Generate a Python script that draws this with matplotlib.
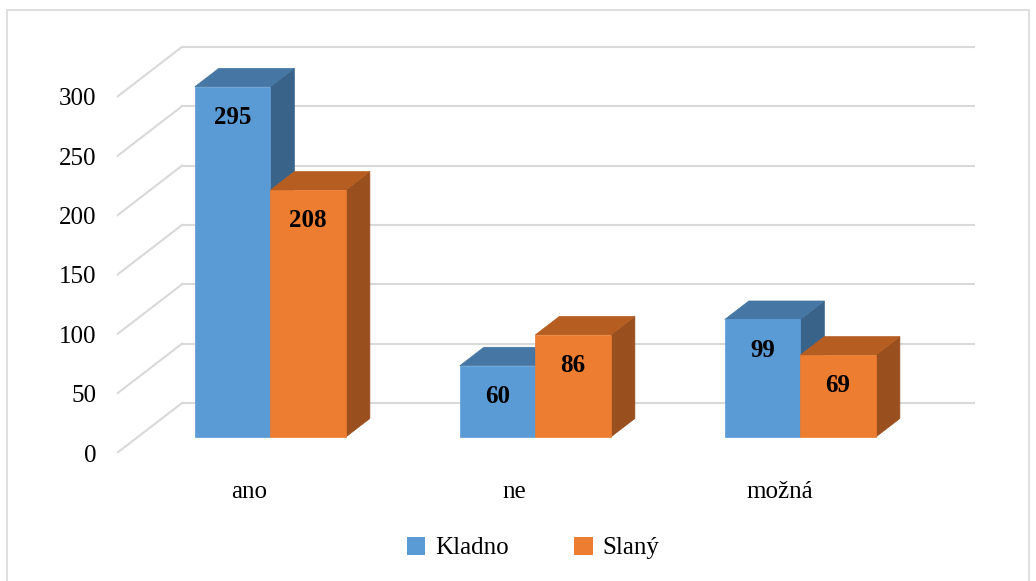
import matplotlib.pyplot as plt
from matplotlib.patches import Polygon, Rectangle, Patch

# data
kategorie = ["ano", "ne", "možná"]
serie = ["Kladno", "Slaný"]
kladno = [295, 60, 99]
slany = [208, 86, 69]

# colors: front, top, side
barvy = {
    "Kladno": ("#5B9BD5", "#4676A3", "#3A6389"),
    "Slaný": ("#ED7D31", "#B65E22", "#9A4F1E"),
}
grid_barva = "#D9D9D9"

plt.rcParams["font.family"] = ["Liberation Serif", "DejaVu Serif"]

fig = plt.figure(figsize=(10.36, 5.81), dpi=100)
W, H = 1036, 581

# axes = front plane of the 3D box
ax_l, ax_b, ax_r, ax_t = 117, 453, 975, 30
ax = fig.add_axes([ax_l / W, 1 - ax_b / H, (ax_r - ax_l) / W, (ax_b - ax_t) / H])
px_cat = 265.0          # pixels per category
px_val = 1.187          # pixels per unit
ax.set_xlim(-0.5, -0.5 + (ax_r - ax_l) / px_cat)
ax.set_ylim(0, (ax_b - ax_t) / px_val)
for s in ax.spines.values():
    s.set_visible(False)

# depth of the box in data units
DX = 65 / px_cat
DY = 50 / px_val
f0, f1 = 0.32, 0.69     # bar position inside depth
n = len(kategorie)

# back wall + side wall grid
for v in range(0, 301, 50):
    ax.plot([-0.5, -0.5 + DX], [v, v + DY], color=grid_barva, lw=1.5, zorder=1)
    ax.plot([-0.5 + DX, n - 0.5 + DX], [v + DY, v + DY], color=grid_barva, lw=1.5, zorder=1)

w = 0.285


def kvadr(x0, v, cols):
    fc, tc, sc = cols
    ax0, ay0 = x0 + f0 * DX, f0 * DY
    bx0, by0 = x0 + f1 * DX, f1 * DY
    side = [(ax0 + w, ay0), (bx0 + w, by0), (bx0 + w, by0 + v), (ax0 + w, ay0 + v)]
    top = [(ax0, ay0 + v), (bx0, by0 + v), (bx0 + w, by0 + v), (ax0 + w, ay0 + v)]
    ax.add_patch(Polygon(side, closed=True, fc=sc, ec=sc, lw=0.5, zorder=3))
    ax.add_patch(Polygon(top, closed=True, fc=tc, ec=tc, lw=0.5, zorder=3))
    ax.add_patch(Rectangle((ax0, ay0), w, v, fc=fc, ec=fc, lw=0.5, zorder=3))
    ax.text(ax0 + w / 2, ay0 + v - 26, str(v), ha="center", va="center",
            fontsize=18, fontweight="bold", zorder=4)


for j in range(n):
    kvadr(j - w, kladno[j], barvy["Kladno"])
    kvadr(j, slany[j], barvy["Slaný"])

ax.set_yticks(range(0, 301, 50))
ax.set_xticks(range(n))
ax.set_xticklabels(kategorie, fontsize=18)
ax.tick_params(axis="y", length=0, pad=15, labelsize=18)
ax.tick_params(axis="x", length=0, pad=20)

# legend
handles = [Patch(fc=barvy[s][0], ec="none") for s in serie]
fig.legend(handles, serie, loc="center", bbox_to_anchor=(533 / W, 1 - 548 / H),
           ncol=2, frameon=False, fontsize=18, handlelength=0.75, handleheight=0.75,
           handletextpad=0.4, columnspacing=2.6)

# chart frame
fig.patches.append(Rectangle((7 / W, -0.05), (1029 - 7) / W, 1.05 - 10 / H,
                             transform=fig.transFigure, fill=False,
                             ec=grid_barva, lw=1.2))

fig.savefig("out.png", dpi=100)
